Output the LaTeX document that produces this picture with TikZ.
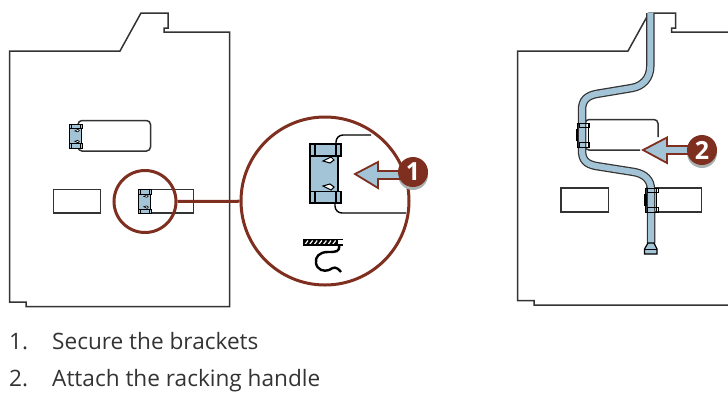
\documentclass[tikz,border=0pt]{standalone}
\usepackage{fontspec}
\setmainfont{Open Sans}
\definecolor{rust}{HTML}{7F2F20}
\definecolor{steel}{HTML}{A3C4D6}
\definecolor{ink}{HTML}{333333}
\definecolor{shade}{HTML}{A9B0B0}
\tikzset{
  outline/.style={draw=ink,line width=1.5pt,line join=miter},
  ring/.style={circle,draw=rust,inner sep=0pt,line width=3pt},
  badge/.style={circle,fill=rust,minimum size=30pt,inner sep=0pt,text=white,font=\bfseries\fontsize{25}{25}\selectfont},
  shadowdisc/.style={circle,fill=shade,minimum size=30pt,inner sep=0pt},
  pointer/.style={fill=steel,draw=rust,line width=1.8pt,line join=miter},
  caption/.style={anchor=base west,inner sep=0pt,text=ink,font=\fontsize{22.6}{26}\selectfont},
}
% bracket drawn in a 31 x 59 box, origin top-left; #4 = base line width
\newcommand{\bracketbox}[4]{%
  \begin{scope}[shift={(#1,#2)},scale=#3]
    \path[fill=steel,draw=black,line width=#4] (0,0) rectangle (28,59);
    \path[fill=steel,draw=black,line width=#4] (0,0) rectangle (31,12);
    \path[fill=steel,draw=black,line width=#4] (0,47.5) rectangle (31,59);
    \draw[black,line width=1.6*#4] (0,0) -- (0,59);
    \draw[black,line width=#4] (5,0) -- (5,12) (5,47.5) -- (5,59) (26,0) -- (26,12) (26,47.5) -- (26,59);
    \path[fill=white,draw=black,line width=.7*#4] (13,17) -- (21,13) -- (24,16) -- (20,19) -- cycle;
    \path[fill=white,draw=black,line width=.7*#4] (13,42) -- (21,46) -- (24,43) -- (20,40) -- cycle;
  \end{scope}}
\newcommand{\bracketwire}[2]{%
  \begin{scope}[shift={(#1,#2)},scale=.41]
    \draw[black,line width=1pt] (0,0) rectangle (28,59);
    \draw[black,line width=2.5pt] (0,14) -- (0,45);
    \draw[black,line width=1pt] (5,0) rectangle (31,12) (5,47.5) rectangle (31,59);
  \end{scope}}
\newcommand{\handlepath}{(650.3,13) -- (650.3,66) .. controls (650.3,78) and (643,86) .. (632,88) -- (596,94)
  .. controls (587,96) and (582,100) .. (582,110) -- (582,150) .. controls (582,160) and (586,164) .. (596,166)
  -- (634,172) .. controls (645,174) and (651,180) .. (651,190) -- (651,243)}
\begin{document}
\begin{tikzpicture}[x=1pt,y=-1pt]
\useasboundingbox (0,0) rectangle (728,392);
% left panel
\draw[outline] (9.5,51) -- (120,51) -- (141,13) -- (168,13) -- (168,28) -- (164,28) -- (164,32) -- (229.5,32) -- (229.5,306.5) -- (26,306.5) -- (26,302) -- (9.5,302) -- cycle;
\draw[outline,rounded corners=4pt] (78,120.5) rectangle (150.5,151);
\draw[outline] (53.5,189.5) rectangle (100.5,213);
\draw[outline] (139,189.5) rectangle (193.5,213);
\bracketbox{69.5}{124}{.41}{.9pt}
\bracketbox{138.5}{189.5}{.41}{.9pt}
% right panel
\begin{scope}
\clip (500,0) rectangle (728,392);
\draw[outline] (517.5,51) -- (628,51) -- (649,13) -- (675.5,13) -- (675.5,28) -- (671.5,28) -- (671.5,32) -- (737,32) -- (737,305) -- (534,305) -- (534,300.5) -- (517.5,300.5) -- cycle;
\end{scope}
\draw[outline,rounded corners=4pt] (640,150) -- (585,150) -- (585,119.5) -- (658,119.5) -- (658,137);
\draw[outline] (561,188) rectangle (608.5,212);
\draw[outline] (647,188) rectangle (701.5,212);
\draw[ink,line width=8.5pt] \handlepath;
\draw[steel,line width=6pt,shorten <=-.5pt,shorten >=-.5pt] \handlepath;
\path[fill=steel,draw=black,line width=1.2pt] (648,243) -- (654,243) -- (657,249) -- (657,254) -- (644.5,254) -- (644.5,249) -- cycle;
\draw[black,line width=1pt] (644.5,249) -- (657,249);
\bracketwire{577}{123}
\bracketwire{645.5}{188}
% detail
\node[ring,minimum size=62pt] (spot) at (145,201.5) {};
\node[ring,fill=white,minimum size=168pt] (detail) at (325,201) {};
\draw[rust,line width=3pt] (spot) -- (detail);
\draw[black,line width=1.4pt,rounded corners=7pt] (336,146) -- (336,135) -- (371,135);
\draw[black,line width=1.4pt,rounded corners=7pt] (335,201) -- (335,213) -- (406,213);
\bracketbox{310}{144}{1}{1.5pt}
% hook
\fill[black] (303,240) rectangle (338,245);
\foreach \k in {0,...,6}{\draw[white,line width=1.2pt] ({305+\k*4.6},244.5) -- ({308+\k*4.6},240.5);}
\draw[black,line width=1.1pt] (303,239.5) -- (343,239.5) (303,245) -- (343,245);
\draw[black,line width=2.4pt] (339,245) .. controls (340,252) and (336,252) .. (328,252) .. controls (319,252) and (315,257) .. (316,263) .. controls (317,270) and (324,272) .. (329,270) .. controls (334,267) and (336,266) .. (341,272);
% callout 1
\node[shadowdisc] (shade1) at (413,175) {};
\draw[pointer] (355,174) -- (378,162) -- (378,171) -- (400,171) -- (400,179) -- (378,179) -- (378,188) -- cycle;
\node[badge] (one) at (413,172) {1};
% callout 2
\node[shadowdisc] (shade2) at (702,153) {};
\draw[pointer] (643,150) -- (667,137.5) -- (667,146) -- (690,146) -- (690,154) -- (667,154) -- (667,163) -- cycle;
\node[badge] (two) at (702,150) {2};
% captions
\node[caption] (n1) at (9,349) {1.};
\node[caption] (t1) at (52,349) {Secure the brackets};
\node[caption] (n2) at (9,386) {2.};
\node[caption] (t2) at (52,386) {Attach the racking handle};
\end{tikzpicture}
\end{document}
